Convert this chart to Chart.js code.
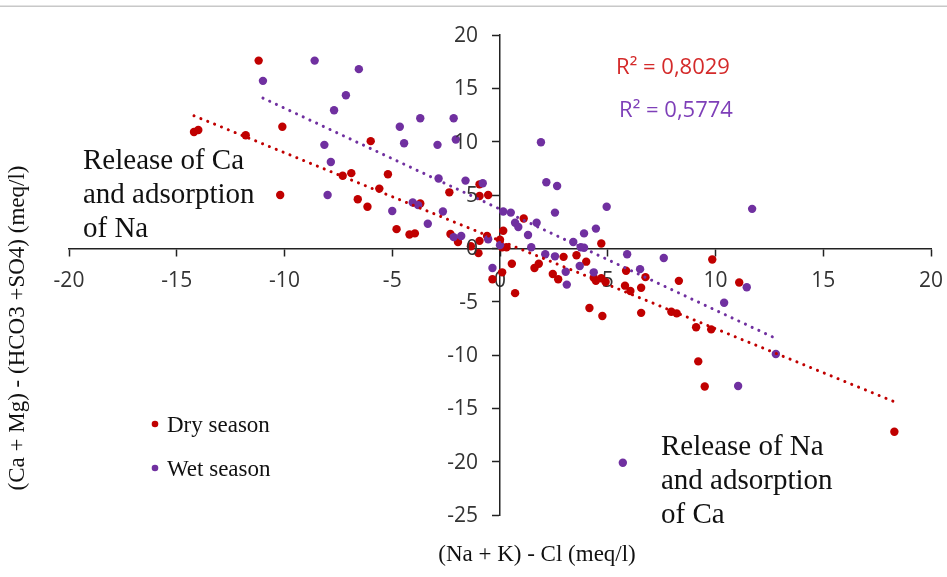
<!DOCTYPE html>
<html>
<head>
<meta charset="utf-8">
<script src="https://cdn.jsdelivr.net/npm/chart.js@4/dist/chart.umd.min.js"></script>
<style>
  html, body { margin: 0; padding: 0; background: #fff; }
  #wrap { width: 947px; height: 577px; position: relative; }
</style>
</head>
<body>
<div id="wrap"><canvas id="c" width="947" height="577"></canvas></div>
<script>
// ---- Data ----
const seriesNames = ['Dry season', 'Wet season'];

const dryX = [-14.2,-14.0,-11.2,-11.8,-10.1,-10.2,-7.3,-6.9,-6.6,-6.15,-6.0,-5.6,-5.2,-4.8,-4.2,-3.95,-3.7,-2.35,-2.3,-1.95,-1.35,-1.0,-0.95,-0.95,-0.95,-0.55,-0.6,0.15,0.0,0.1,0.3,-0.35,0.1,0.55,0.7,1.1,1.6,1.8,2.45,2.7,2.95,3.55,4.0,4.35,4.45,4.7,4.9,4.7,4.15,4.75,5.85,5.8,6.05,6.55,6.75,6.55,7.95,8.2,8.3,9.1,9.8,9.2,9.5,9.85,11.1,18.3];
const dryY = [10.9,11.1,17.6,10.6,11.4,5.0,6.8,7.05,4.6,3.9,10.05,5.6,6.95,1.8,1.3,1.4,4.2,5.25,1.35,0.6,0.2,-0.45,6.0,4.9,0.7,5.0,1.15,1.65,0.8,0.1,0.1,-2.9,-2.25,-1.45,-4.2,2.8,-1.85,-1.45,-2.4,-2.9,-0.8,-0.65,-1.25,-2.75,-3.05,-2.8,-3.15,0.45,-5.6,-6.35,-2.1,-3.5,-4.0,-3.7,-2.7,-6.05,-5.95,-6.1,-3.05,-7.4,-7.6,-10.6,-12.95,-1.05,-3.2,-17.2];

const wetX = [-11.0,-8.6,-6.55,-7.15,-7.7,-8.15,-7.85,-8.0,-4.65,-4.45,-3.7,-2.15,-2.05,-2.9,-2.85,-1.6,-0.8,-5.0,-2.65,-3.35,-4.05,-3.8,-2.15,-1.8,-0.55,0.0,0.15,0.5,0.7,0.85,1.3,1.7,1.9,2.15,2.65,2.55,4.95,4.45,3.9,3.4,3.75,3.9,1.45,2.1,2.55,-0.35,3.7,3.05,3.1,4.35,5.9,7.6,6.5,10.4,11.45,11.7,12.8,11.05,5.7];
const wetY = [15.7,17.6,16.8,14.35,12.95,9.7,8.1,5.0,11.4,9.85,12.2,12.2,10.2,9.7,6.55,6.35,6.1,3.5,3.45,2.3,4.3,4.05,1.05,1.15,0.85,0.3,3.45,3.35,2.4,2.0,1.25,2.4,9.95,6.2,5.85,3.35,3.9,1.85,1.4,0.6,0.1,0.05,0.1,-0.55,-0.75,-1.85,-1.65,-2.2,-3.4,-2.25,-0.55,-0.9,-1.95,-5.1,-3.65,3.7,-9.9,-12.9,-20.1];

const xTickValues = [-20,-15,-10,-5,0,5,10,15,20];
const yTickValues = [-25,-20,-15,-10,-5,0,5,10,15,20];
const r2Labels = ['R\u00B2 = 0,8029', 'R\u00B2 = 0,5774'];
const xTitle = '(Na + K) - Cl (meq/l)';
const yTitle = '(Ca + Mg) - (HCO3 +SO4) (meq/l)';
const noteLeft = ['Release of Ca', 'and adsorption', 'of Na'];
const noteRight = ['Release of Na', 'and adsorption', 'of Ca'];

// ---- styling ----
const RED = '#C00000';
const PURPLE = '#7030A0';
const SERIF = '"Liberation Serif", "Times New Roman", serif';
const SANS = '"Open Sans", "Noto Sans", sans-serif';
const TICK_FONT = '21px ' + SANS;
const TICK_LEN = 7;

function pts(xs, ys) { return xs.map((x, i) => ({x: x, y: ys[i]})); }

// least-squares linear trend (like Excel's trendline) over the data range
function trend(xs, ys) {
  const n = xs.length;
  let sx = 0, sy = 0, sxx = 0, sxy = 0;
  for (let i = 0; i < n; i++) { sx += xs[i]; sy += ys[i]; sxx += xs[i]*xs[i]; sxy += xs[i]*ys[i]; }
  const b = (n*sxy - sx*sy) / (n*sxx - sx*sx);
  const a = (sy - b*sx) / n;
  const x0 = Math.min(...xs), x1 = Math.max(...xs);
  return [{x: x0, y: a + b*x0}, {x: x1, y: a + b*x1}];
}

const decor = {
  id: 'decor',
  beforeDraw(chart) {
    const ctx = chart.ctx;
    ctx.save();
    ctx.fillStyle = '#c8c8c8';
    ctx.fillRect(0, 5.5, chart.width, 1.5);
    ctx.restore();
  },
  afterDraw(chart) {
    const ctx = chart.ctx;
    const xs = chart.scales.x, ys = chart.scales.y;
    ctx.save();
    // y tick labels (left of the centred axis, after tick mark + padding)
    ctx.font = TICK_FONT;
    ctx.fillStyle = '#333';
    ctx.textAlign = 'right';
    ctx.textBaseline = 'middle';
    const axisX = xs.getPixelForValue(0);
    ys.ticks.forEach(t => {
      ctx.fillText(String(t.value), axisX - TICK_LEN - 15, ys.getPixelForValue(t.value) + 1);
    });

    ctx.fillStyle = '#111';
    // notes
    ctx.font = '29px ' + SERIF;
    ctx.textAlign = 'left';
    noteLeft.forEach((t, i) => ctx.fillText(t, 83, 161 + i*34));
    noteRight.forEach((t, i) => ctx.fillText(t, 661, 447 + i*34));
    // R² labels
    ctx.font = '22px ' + SANS;
    ctx.textAlign = 'center';
    ctx.fillStyle = '#D42A2A';
    ctx.fillText(r2Labels[0], 673, 68);
    ctx.fillStyle = '#7E3FB8';
    ctx.fillText(r2Labels[1], 676, 111);
    // legend
    const colors = [RED, PURPLE];
    ctx.font = '23px ' + SERIF;
    ctx.textAlign = 'left';
    [425, 469].forEach((yy, i) => {
      ctx.fillStyle = colors[i];
      ctx.beginPath(); ctx.arc(155, yy - 1, 3.3, 0, Math.PI*2); ctx.fill();
      ctx.fillStyle = '#111';
      ctx.fillText(seriesNames[i], 167, yy + 1);
    });
    // axis titles
    ctx.font = '23px ' + SERIF;
    ctx.textAlign = 'center';
    ctx.fillText(xTitle, 537, 555);
    ctx.translate(18, 328);
    ctx.rotate(-Math.PI/2);
    ctx.fillText(yTitle, 0, 0);
    ctx.restore();
  }
};

const dotLine = (color, data) => ({
  type: 'line',
  data: data,
  borderColor: color,
  borderWidth: 3,
  borderDash: [0.1, 7.3],
  borderCapStyle: 'round',
  pointRadius: 0,
  fill: false,
  order: 0
});

new Chart(document.getElementById('c'), {
  type: 'scatter',
  data: {
    datasets: [
      { label: seriesNames[0], data: pts(dryX, dryY), backgroundColor: RED, borderWidth: 0, pointRadius: 4.2, order: 2 },
      { label: seriesNames[1], data: pts(wetX, wetY), backgroundColor: PURPLE, borderWidth: 0, pointRadius: 4.2, order: 1 },
      dotLine(RED, trend(dryX, dryY)),
      dotLine(PURPLE, trend(wetX, wetY))
    ]
  },
  options: {
    responsive: false,
    animation: false,
    devicePixelRatio: 1,
    layout: { padding: { left: 69, right: 16, top: 35, bottom: 62 } },
    plugins: { legend: { display: false }, tooltip: { enabled: false } },
    scales: {
      x: {
        type: 'linear', min: -20, max: 20,
        position: { y: 0 },
        afterBuildTicks: s => { s.ticks = xTickValues.map(v => ({value: v})); },
        afterFit: s => { s.paddingLeft = 0; s.paddingRight = 0; s.height = 0; },
        ticks: { color: '#333', font: { family: SANS, size: 21 }, padding: 13, maxRotation: 0, autoSkip: false },
        grid: { drawOnChartArea: false, drawTicks: true, tickLength: TICK_LEN, tickColor: '#222', tickWidth: 1.5 },
        border: { color: '#222', width: 1.5 }
      },
      y: {
        type: 'linear', min: -25, max: 20,
        position: { x: 0 },
        afterBuildTicks: s => { s.ticks = yTickValues.map(v => ({value: v})); },
        afterFit: s => { s.width = 0; s.paddingTop = 0; s.paddingBottom = 0; },
        ticks: { display: false, autoSkip: false },
        grid: { drawOnChartArea: false, drawTicks: true, tickLength: TICK_LEN, tickColor: '#222', tickWidth: 1.5 },
        border: { color: '#222', width: 1.5 }
      }
    }
  },
  plugins: [decor]
});
</script>
</body>
</html>
